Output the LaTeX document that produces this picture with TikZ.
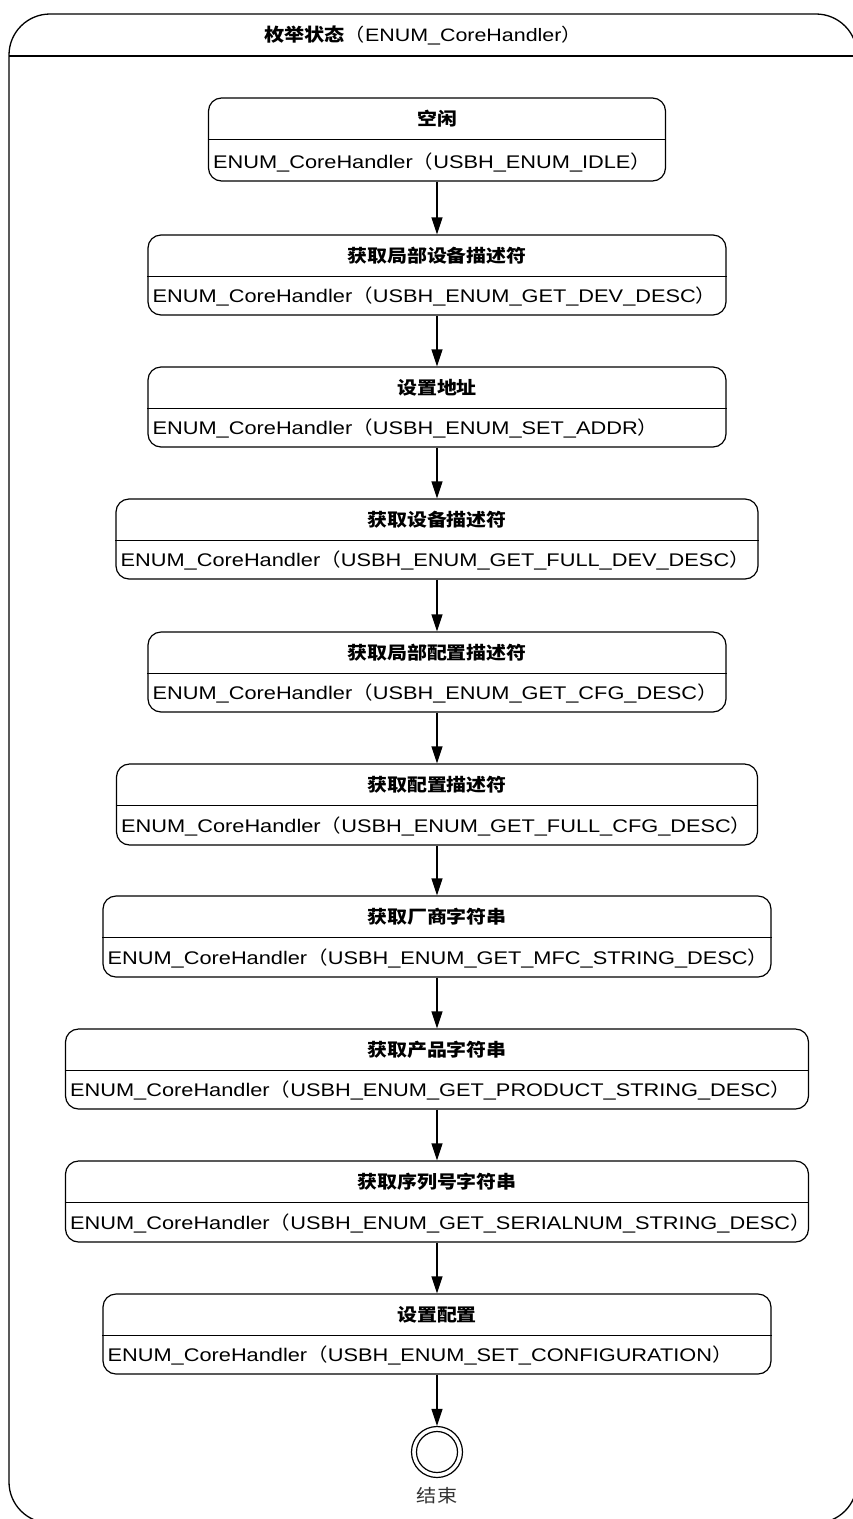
\documentclass[tikz,border=0pt]{standalone}
\usepackage{fontspec}
\setmainfont{Liberation Sans}[FakeStretch=1.19]
\newfontfamily\cjk{Noto Sans CJK SC}[FakeStretch=1.12]
\usetikzlibrary{arrows.meta}
\tikzset{
  stbox/.style={draw, line width=1.2pt, rounded corners=13pt, inner sep=0pt},
  frameline/.style={draw, line width=1.3pt},
  ttl/.style={inner sep=0pt, font=\fontsize{17.8}{20}\selectfont\cjk\bfseries},
  bodytxt/.style={inner sep=0pt, anchor=west, font=\fontsize{18.3}{20}\selectfont},
  arr/.style={line width=1.2pt, -{Triangle[width=11pt,length=17pt]}},
}
\newcommand\stbox[6]{%
  \node[stbox, minimum width=#2pt, minimum height={#4pt-#3pt}] (#1) at (437,{(#3+#4)/2}) {};
  \draw[line width=1.2pt] ([yshift=-42pt]#1.north west) -- ([yshift=-42pt]#1.north east);
  \node[ttl] (#1t) at ([yshift=-21pt]#1.north) {#5};
  \node[bodytxt] (#1b) at ([xshift=5pt,yshift=19.5pt]#1.south west) {ENUM\_CoreHandler{\cjk （}#6{\cjk ）}};
}
\begin{document}
\begin{tikzpicture}[x=1pt,y=-1pt]
\useasboundingbox (0,0) rectangle (852,1519);
\fill[white] (0,0) rectangle (852,1519);
% outer frame
\draw[frameline, rounded corners=41pt] (9,14) rectangle (857,1523);
\draw[frameline] (9,56) -- (857,56);
\node[inner sep=0pt, font=\fontsize{18}{20}\selectfont] (hdr) at (423,35) {{\cjk\bfseries 枚举状态}{\cjk （}ENUM\_CoreHandler{\cjk ）}};
% states
\stbox{s1}{457}{98}{181}{空闲}{USBH\_ENUM\_IDLE}
\stbox{s2}{578}{235}{315}{获取局部设备描述符}{USBH\_ENUM\_GET\_DEV\_DESC}
\stbox{s3}{578}{367}{447}{设置地址}{USBH\_ENUM\_SET\_ADDR}
\stbox{s4}{642}{499}{579}{获取设备描述符}{USBH\_ENUM\_GET\_FULL\_DEV\_DESC}
\stbox{s5}{578}{632}{712}{获取局部配置描述符}{USBH\_ENUM\_GET\_CFG\_DESC}
\stbox{s6}{641}{764}{845}{获取配置描述符}{USBH\_ENUM\_GET\_FULL\_CFG\_DESC}
\stbox{s7}{668}{896}{977}{获取厂商字符串}{USBH\_ENUM\_GET\_MFC\_STRING\_DESC}
\stbox{s8}{743}{1029}{1109}{获取产品字符串}{USBH\_ENUM\_GET\_PRODUCT\_STRING\_DESC}
\stbox{s9}{743}{1161}{1242}{获取序列号字符串}{USBH\_ENUM\_GET\_SERIALNUM\_STRING\_DESC}
\stbox{s10}{668}{1294}{1374}{设置配置}{USBH\_ENUM\_SET\_CONFIGURATION}
% final state
\node[circle, draw, line width=1.2pt, minimum size=51pt, inner sep=0pt] (end) at (437,1452) {};
\node[circle, draw, line width=1.2pt, minimum size=41pt, inner sep=0pt] (endin) at (end.center) {};
\node[inner sep=0pt, text=black!80, font=\fontsize{18}{20}\selectfont\cjk] (endlbl) at (437,1496) {结束};
% transitions
\draw[arr] (s1) -- (s2);
\draw[arr] (s2) -- (s3);
\draw[arr] (s3) -- (s4);
\draw[arr] (s4) -- (s5);
\draw[arr] (s5) -- (s6);
\draw[arr] (s6) -- (s7);
\draw[arr] (s7) -- (s8);
\draw[arr] (s8) -- (s9);
\draw[arr] (s9) -- (s10);
\draw[arr] (s10) -- (end);
\end{tikzpicture}
\end{document}
